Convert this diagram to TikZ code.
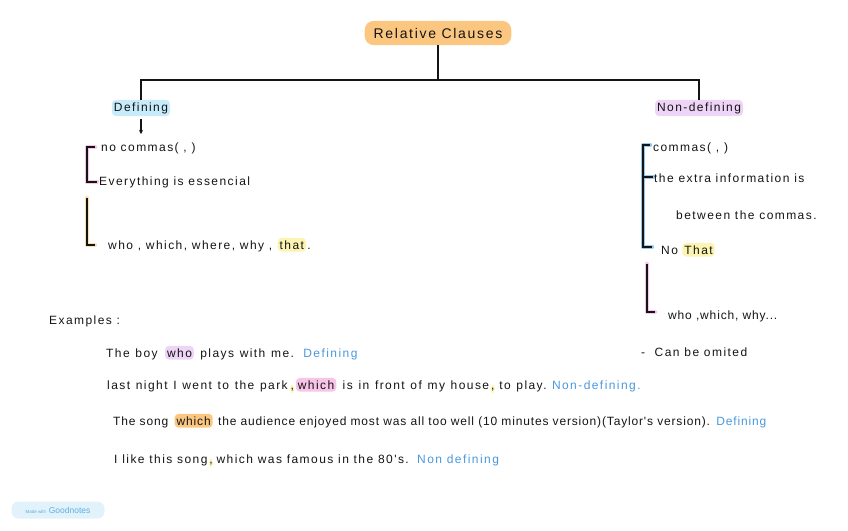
\documentclass[tikz,border=0pt]{standalone}
\usepackage{fontspec}
\newfontfamily\handfont[LetterSpace=12]{Liberation Sans}
\newfontfamily\denseFont[LetterSpace=7]{Liberation Sans}
\newfontfamily\wideFont[LetterSpace=11.9,WordSpace=1.2]{Liberation Sans}
\newfontfamily\badgefont{Liberation Sans}
\usetikzlibrary{
  arrows.meta,
  positioning
}
\definecolor{peach}{RGB}{251,199,128}
\definecolor{skyhl}{RGB}{200,235,250}
\definecolor{lilachl}{RGB}{238,212,246}
\definecolor{pinkhl}{RGB}{248,196,232}
\definecolor{lemonhl}{RGB}{251,244,178}
\definecolor{apricot}{RGB}{252,222,175}
\definecolor{skyline}{RGB}{150,200,238}
\definecolor{inkblue}{RGB}{72,152,222}
\definecolor{ink}{RGB}{20,20,20}
\definecolor{badgebg}{RGB}{225,242,251}
\definecolor{badgetext}{RGB}{95,175,222}

\begin{document}
\begin{tikzpicture}[
            x=1pt, y=-1pt,
            txt/.style={font=\handfont\fontsize{12}{14}\selectfont, text=ink, inner sep=1pt},
            dense/.style={font=\denseFont\fontsize{12}{14}\selectfont},
            wide/.style={font=\wideFont\fontsize{12}{14}\selectfont},
            hl/.style={txt, rounded corners=4pt, inner xsep=2pt, inner ysep=2.5pt},
            tag/.style={txt, text=inkblue},
            glow/.style={line width=4.5pt, line cap=round, line join=round},
            pen/.style={draw=ink, line width=1.1pt}
        ]
            \useasboundingbox (0,0) rectangle (848,530);
            % heading and the two branches
            \node[hl, fill=peach, font=\handfont\fontsize{14}{16}\selectfont, rounded corners=9pt, inner xsep=9pt, inner ysep=7pt] (title) at (438,33) {Relative Clauses};
            \node[hl, fill=skyhl] (defn) at (141,108) {Defining};
            \node[hl, fill=lilachl] (nondef) at (699,108) {Non-defining};
            \coordinate (split) at (438,80);
            \draw[pen] (title.south) -- (split) -| (defn.north);
            \draw[pen] (split) -| (nondef.north);
            \coordinate (defarr) at (141,134);
            \draw[pen, shorten <=3pt, -{Stealth[length=4pt,width=4pt]}] (defn.south) -- (defarr);

            % defining side
            \draw[glow, pinkhl] (95,147) -- (87,147) -- (87,182) -- (97,182);
            \draw[pen] (95,147) -- (87,147) -- (87,182) -- (97,182);
            \node[txt, anchor=base west] (nocom) at (100,151) {no commas( , )};
            \node[txt, anchor=base west] (every) at (98,185) {Everything is essencial};
            \draw[glow, apricot] (87,198) -- (87,245) -- (95,245);
            \draw[pen] (87,198) -- (87,245) -- (95,245);
            \node[txt, anchor=base west] (wlist) at (107,249) {who , which, where, why ,};
            \node[hl, fill=lemonhl, base right=4pt of wlist] (that) {that};
            \node[txt, base right=0pt of that] (dot) {.};

            % non-defining side
            \draw[glow, skyline] (650,145) -- (643,145) -- (643,247) -- (652,247);
            \draw[glow, skyline] (643,177) -- (653,177);
            \draw[pen] (650,145) -- (643,145) -- (643,247) -- (652,247);
            \draw[pen] (643,177) -- (653,177);
            \node[txt, anchor=base west] (com) at (652,151) {commas( , )};
            \node[txt, anchor=base west] (extra) at (653,182) {the extra information is};
            \node[txt, anchor=base west] (betw) at (675,219) {between the commas.};
            \node[txt, anchor=base west] (no) at (660,254) {No};
            \node[hl, fill=lemonhl, base right=3pt of no] (nothat) {That};
            \draw[glow, pinkhl] (647,264) -- (647,312) -- (655,312);
            \draw[pen] (647,264) -- (647,312) -- (655,312);
            \node[txt, dense, anchor=base west] (wlist2) at (667,319) {who ,which, why...};
            \node[txt, anchor=base west] (omit) at (640,356) {-\ \ Can be omited};

            % examples
            \node[txt, anchor=base west] (exm) at (48,324) {Examples :};
            \node[txt, wide, anchor=base west] (e1a) at (105,357) {The boy};
            \node[hl, fill=lilachl, base right=6pt of e1a] (e1b) {who};
            \node[txt, wide, base right=5pt of e1b] (e1c) {plays with me.};
            \node[tag, base right=7pt of e1c] (e1d) {Defining};

            \node[txt, wide, anchor=base west] (e2a) at (106,389) {last night I went to the park};
            \node[hl, fill=lemonhl, inner xsep=0.5pt, base right=1pt of e2a] (e2b) {,};
            \node[hl, fill=pinkhl, base right=1pt of e2b] (e2c) {which};
            \node[txt, wide, base right=5pt of e2c] (e2d) {is in front of my house};
            \node[hl, fill=lemonhl, inner xsep=0.5pt, base right=0pt of e2d] (e2e) {,};
            \node[txt, wide, base right=3pt of e2e] (e2f) {to play.};
            \node[tag, base right=3pt of e2f] (e2g) {Non-defining.};

            \node[txt, dense, anchor=base west] (e3a) at (112,425) {The song};
            \node[hl, dense, fill=peach, base right=5pt of e3a] (e3b) {which};
            \node[txt, dense, base right=4pt of e3b] (e3c) {the audience enjoyed most was all too well (10 minutes version)(Taylor's version).};
            \node[tag, dense, base right=4pt of e3c] (e3d) {Defining};

            \node[txt, anchor=base west] (e4a) at (113,463) {I like this song};
            \node[hl, fill=lemonhl, inner xsep=0.5pt, base right=0pt of e4a] (e4b) {,};
            \node[txt, base right=2pt of e4b] (e4c) {which was famous in the 80's.};
            \node[tag, base right=6pt of e4c] (e4d) {Non defining};

            % app badge
            \node[fill=badgebg, text=badgetext, rounded corners=7pt, minimum width=93pt, minimum height=17pt, font=\badgefont] (badge) at (58,510) {{\fontsize{4.5}{5}\selectfont Made with} {\fontsize{8.5}{9}\selectfont Goodnotes}};
        \end{tikzpicture}
\end{document}
